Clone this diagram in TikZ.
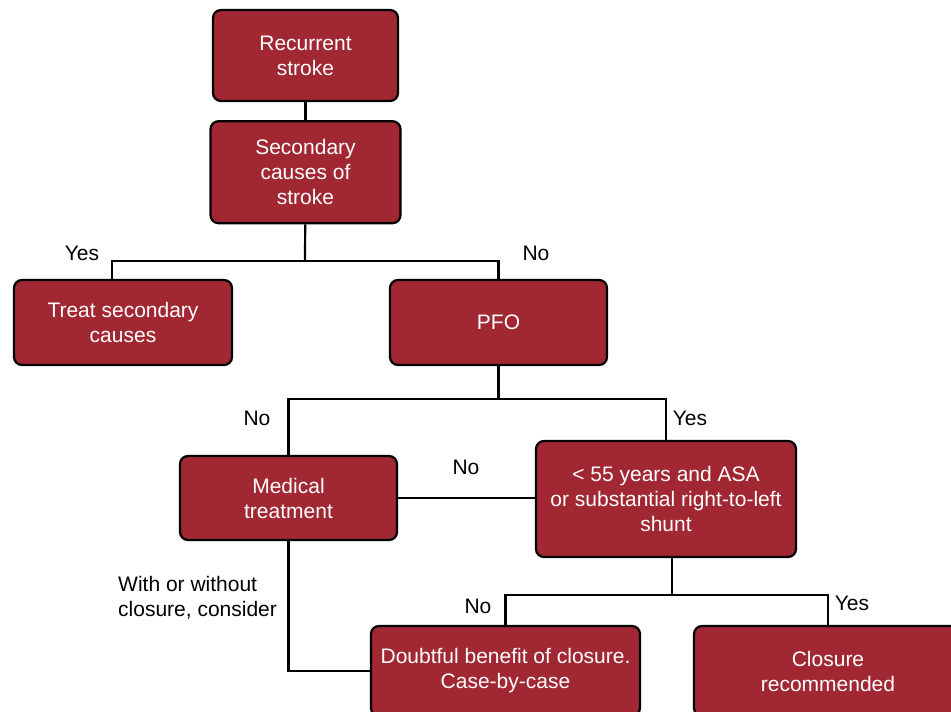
\documentclass[tikz,border=0pt]{standalone}
\usepackage{fontspec}
\setmainfont{Liberation Sans}
\usetikzlibrary{positioning}
\definecolor{boxred}{HTML}{A12833}

\begin{document}
\begin{tikzpicture}[
  x=1pt, y=-1pt,
  every node/.style={font=\fontsize{21}{25}\selectfont},
  stepbox/.style={draw, line width=2.2pt, rounded corners=8pt, fill=boxred,
    text=white, align=center, inner sep=2pt},
  link/.style={line width=2.2pt},
  lbl/.style={inner sep=1pt},
]
\useasboundingbox (0,0) rectangle (951,712);

% --- Nodes -----------------------------------------------------
\node[stepbox, minimum width=185pt, minimum height=91pt] (rec) at (305.5,55.5) {Recurrent\\stroke};
\node[stepbox, minimum width=190pt, minimum height=102pt, below=18pt of rec] (sec) {Secondary\\causes of\\stroke};
\node[stepbox, minimum width=218pt, minimum height=85pt] (treat) at (123,322.5) {Treat secondary\\causes};
\node[stepbox, minimum width=217pt, minimum height=85pt] (pfo) at (498.5,322.5) {PFO};
\node[stepbox, minimum width=217pt, minimum height=84pt] (med) at (288.5,498) {Medical\\treatment};
\node[stepbox, minimum width=260pt, minimum height=116pt] (cond) at (666,499) {{<} 55 years and ASA\\or substantial right-to-left\\shunt};
\node[stepbox, minimum width=269pt, minimum height=90pt] (doubt) at (505.5,671) {Doubtful benefit of closure.\\Case-by-case};
\node[stepbox, minimum width=268pt, minimum height=90pt] (clos) at (828,671) {Closure\\recommended};

% --- Junctions -------------------------------------------------
\coordinate (j1) at (305,261);
\coordinate (jt) at (112,261);
\coordinate (j2) at (498.5,399);
\coordinate (j3) at (672,595);

% --- Connectors ------------------------------------------------
\draw[link] (rec) -- (sec);
\draw[link] (sec) -- (j1);
\draw[link] (j1) -- (jt) -- (jt |- treat.north);
\draw[link] (j1) -| (pfo.north);
\draw[link] (pfo) -- (j2);
\draw[link] (j2) -| (med.north);
\draw[link] (j2) -| (cond.north);
\draw[link] (med.east) -- (med.east -| cond.west);
\draw[link] (j3 |- cond.south) -- (j3);
\draw[link] (j3) -| (doubt.north);
\draw[link] (j3) -| (clos.north);
\draw[link] (med.south) |- (doubt.west);

% --- Labels ----------------------------------------------------
\node[lbl] (yes1) at (82,253) {Yes};
\node[lbl] (no1) at (536,253) {No};
\node[lbl] (no2) at (257,418) {No};
\node[lbl] (yes2) at (690,418) {Yes};
\node[lbl] (no3) at (466,467) {No};
\node[lbl] (no4) at (478,606) {No};
\node[lbl] (yes3) at (852,603) {Yes};
\node[lbl, align=left, anchor=west] (cons) at (117,597.5) {With or without\\closure, consider};

\end{tikzpicture}
\end{document}
